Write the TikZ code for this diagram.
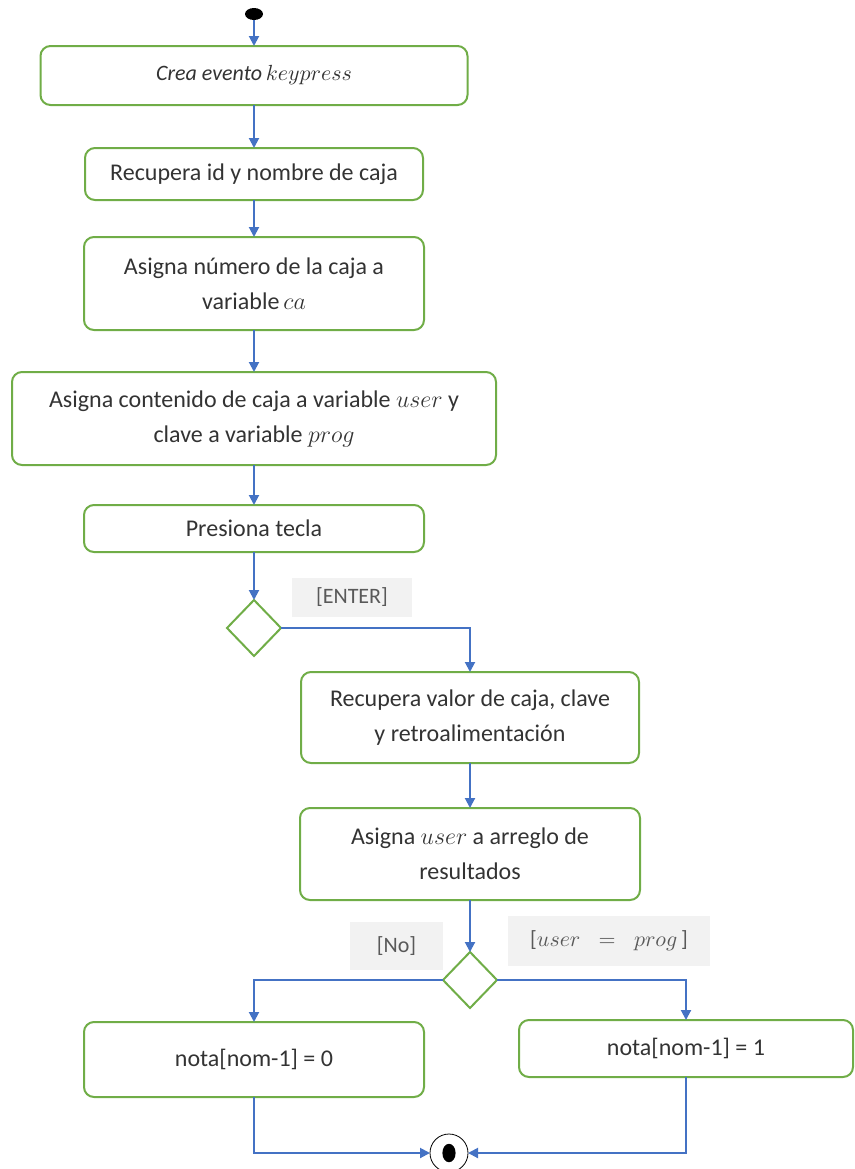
\documentclass[tikz,border=0pt]{standalone}
\usepackage{fontspec}
\setmainfont{Carlito}
\usepackage{xcolor}
\usepackage{tikz}
\usetikzlibrary{arrows.meta,positioning,shapes.geometric}
\definecolor{flowblue}{HTML}{4472C4}
\definecolor{boxgreen}{HTML}{70AD47}
\definecolor{guardgray}{HTML}{F2F2F2}

\begin{document}
\begin{tikzpicture}[font=\fontsize{12}{17.5}\selectfont,outer sep=0pt,
  act/.style={draw=boxgreen,line width=1pt,rounded corners=5pt,align=center,text=black!80,minimum width=170pt,minimum height=46pt,inner sep=2pt,outer sep=0pt},
  dec/.style={draw=boxgreen,line width=1pt,diamond,minimum width=27pt,minimum height=28pt,inner sep=0pt,outer sep=0pt},
  guard/.style={fill=guardgray,text=black!65,font=\fontsize{11}{13}\selectfont,inner sep=0pt,outer sep=0pt},
  arr/.style={-{Triangle[length=5pt,width=5pt]},flowblue,line width=1pt}]
\useasboundingbox (0,0) rectangle (427.5pt,-584.5pt);
\node[fill=black,ellipse,minimum width=9pt,minimum height=6pt,inner sep=0pt] (ini) at (127pt,-7pt) {};
\node[act,below=13pt of ini,minimum width=213.5pt,minimum height=29.5pt,font=\fontsize{11}{13}\selectfont] (a1) {\textit{Crea evento}$\,keypress$};
\node[act,below=21.5pt of a1,minimum width=169pt,minimum height=26pt] (a2) {Recupera id y nombre de caja};
\node[act,below=18.5pt of a2,minimum height=46.5pt] (a3) {Asigna número de la caja a\\variable$\,ca$};
\node[act,below=21pt of a3,minimum width=242pt,minimum height=46.5pt] (a4) {Asigna contenido de caja a variable $user$ y\\clave a variable $prog$};
\node[act,below=20pt of a4,minimum height=23.5pt] (a5) {Presiona tecla};
\node[dec,below=24pt of a5] (d1) {};
\node[act,below=8pt of d1,xshift=108pt,minimum width=169pt,minimum height=45.5pt] (a6) {Recupera valor de caja, clave\\y retroalimentación};
\node[act,below=22.5pt of a6] (a7) {Asigna $user$ a arreglo de\\resultados};
\node[dec,below=26pt of a7] (d2) {};
\node[act,below=7pt of d2,xshift=-108pt,minimum height=37.5pt] (a8) {nota[nom-1] = 0};
\node[act,below=6pt of d2,xshift=108pt,minimum width=167pt,minimum height=28.5pt] (a9) {nota[nom-1] = 1};
\node[draw,circle,fill=white,minimum size=19pt,inner sep=0pt,below=63pt of d2,xshift=-10.5pt] (fin) {};
\fill (fin) ellipse (3.3pt and 4.6pt);
% guards
\node[guard,right=5.5pt of d1,yshift=15.5pt,minimum width=60pt,minimum height=19.5pt] (g1) {[ENTER]};
\node[guard,left=0pt of d2,yshift=17pt,minimum width=46.5pt,minimum height=24pt] (g2) {[No]};
\node[guard,right=5.5pt of d2,yshift=19.5pt,minimum width=101pt,minimum height=25pt] (g3) {[$user\;\;=\;\;prog\,$]};
% flow
\draw[arr] (ini) -- (a1);
\draw[arr] (a1) -- (a2);
\draw[arr] (a2) -- (a3);
\draw[arr] (a3) -- (a4);
\draw[arr] (a4) -- (a5);
\draw[arr] (a5) -- (d1);
\draw[arr] (d1.east) -| (a6.north);
\draw[arr] (a6) -- (a7);
\draw[arr] (a7) -- (d2);
\draw[arr] (d2.west) -| (a8.north);
\draw[arr] (d2.east) -| (a9.north);
\draw[arr] (a8.south) |- (fin.west);
\draw[arr] (a9.south) |- (fin.east);
\end{tikzpicture}
\end{document}
